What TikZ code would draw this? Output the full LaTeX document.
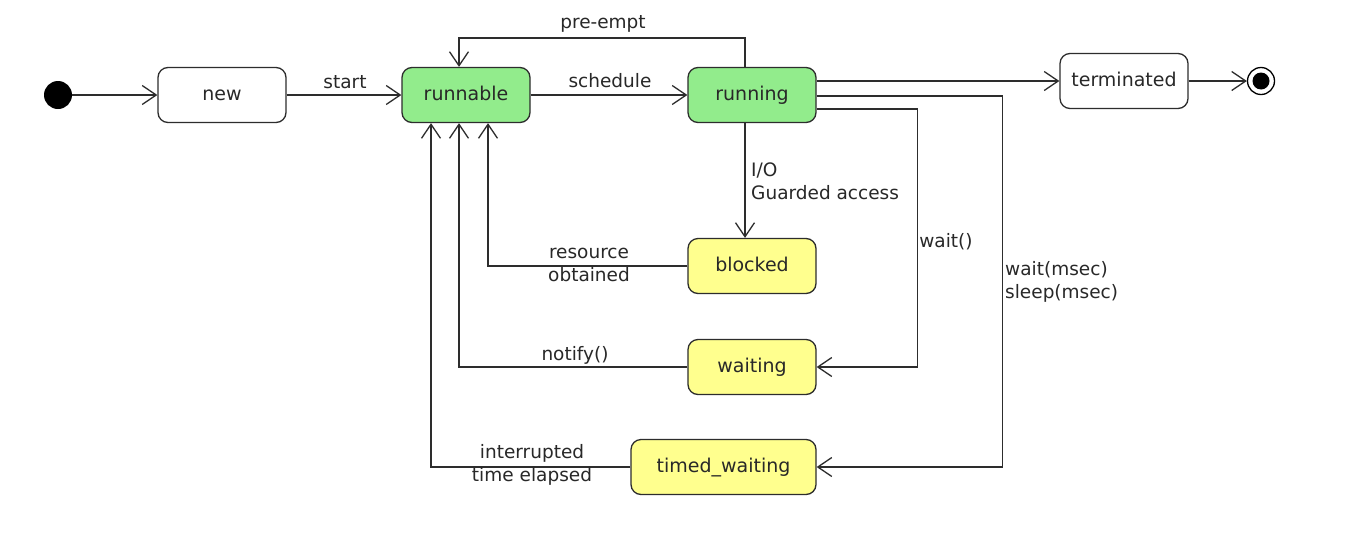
\documentclass[tikz,border=0pt]{standalone}
\usepackage{fontspec}
\setmainfont{DejaVu Sans}
\usetikzlibrary{arrows.meta}
\definecolor{stgreen}{RGB}{146,236,140}
\definecolor{styellow}{RGB}{255,255,142}
\definecolor{stline}{RGB}{45,45,45}
\definecolor{sttext}{RGB}{40,40,40}
\tikzset{
  state/.style={draw=stline, line width=1.3pt, rounded corners=10pt,
    minimum width=128pt, minimum height=55pt, inner sep=0pt,
    text height=14pt, text depth=4pt,
    font=\fontsize{19}{23}\selectfont, text=sttext},
  activestate/.style={state, fill=stgreen},
  pendingstate/.style={state, fill=styellow},
  plainstate/.style={state, fill=white},
  lbl/.style={font=\fontsize{18.5}{23}\selectfont, inner sep=0pt, text=sttext},
  conn/.style={draw=stline, line width=1.3pt, -{Straight Barb[length=14pt,width=19pt]}},
}
\begin{document}
\begin{tikzpicture}[x=1pt,y=-1pt]
\useasboundingbox (0,0) rectangle (1359,536);
\fill[white] (0,0) rectangle (1359,536);

% states
\node[circle, fill=black, minimum size=28pt, inner sep=0pt] (init) at (58,95) {};
\node[plainstate] (new) at (222,95) {new};
\node[activestate] (runnable) at (466,95) {runnable};
\node[activestate] (running) at (752,95) {running};
\node[plainstate] (term) at (1124,81) {terminated};
\node[circle, draw=black, line width=1.3pt, minimum size=27pt, inner sep=0pt] (final) at (1261,81) {};
\fill[black] (final.center) circle (8.5pt);
\node[pendingstate] (blocked) at (752,266) {blocked};
\node[pendingstate] (waiting) at (752,367) {waiting};
\node[pendingstate, minimum width=185pt] (timed) at (723.5,467) {timed\_waiting};

% connectors
\draw[conn] (init) -- (new);
\draw[conn] (new) -- (runnable);
\draw[conn] (runnable) -- (running);
\draw[conn] ([xshift=-7pt]running.north) -- ++(0,-29) -| ([xshift=-7pt]runnable.north);
\draw[conn] (running.east |- term.west) -- (term.west);
\draw[conn] (term) -- (final);
\draw[conn] ([yshift=-1pt]running.east) -| ([xshift=186pt]timed.east) -- (timed.east);
\draw[conn] ([yshift=-14pt]running.east) -| ([xshift=101pt]waiting.east) -- (waiting.east);
\draw[conn] ([xshift=-7pt]running.south) -- ([xshift=-7pt]blocked.north);
\draw[conn] (blocked.west) -| ([xshift=22pt]runnable.south);
\draw[conn] (waiting.west) -| ([xshift=-7pt]runnable.south);
\draw[conn] (timed.west) -| ([xshift=-35pt]runnable.south);

% labels
\node[lbl] (lstart) at (345,82) {start};
\node[lbl] (lsched) at (610,81) {schedule};
\node[lbl] (lpre) at (603,24) {pre-empt};
\node[lbl, align=left, anchor=north west] (lio) at (751,163) {I/O\\Guarded access};
\node[lbl] (lwait) at (946,242) {wait()};
\node[lbl, align=left, anchor=north west] (lwms) at (1005,261) {wait(msec)\\sleep(msec)};
\node[lbl, align=center] (lres) at (589,265) {resource\\obtained};
\node[lbl] (lnot) at (575,355) {notify()};
\node[lbl, align=center] (lint) at (532,465) {interrupted\\time elapsed};
\end{tikzpicture}
\end{document}
